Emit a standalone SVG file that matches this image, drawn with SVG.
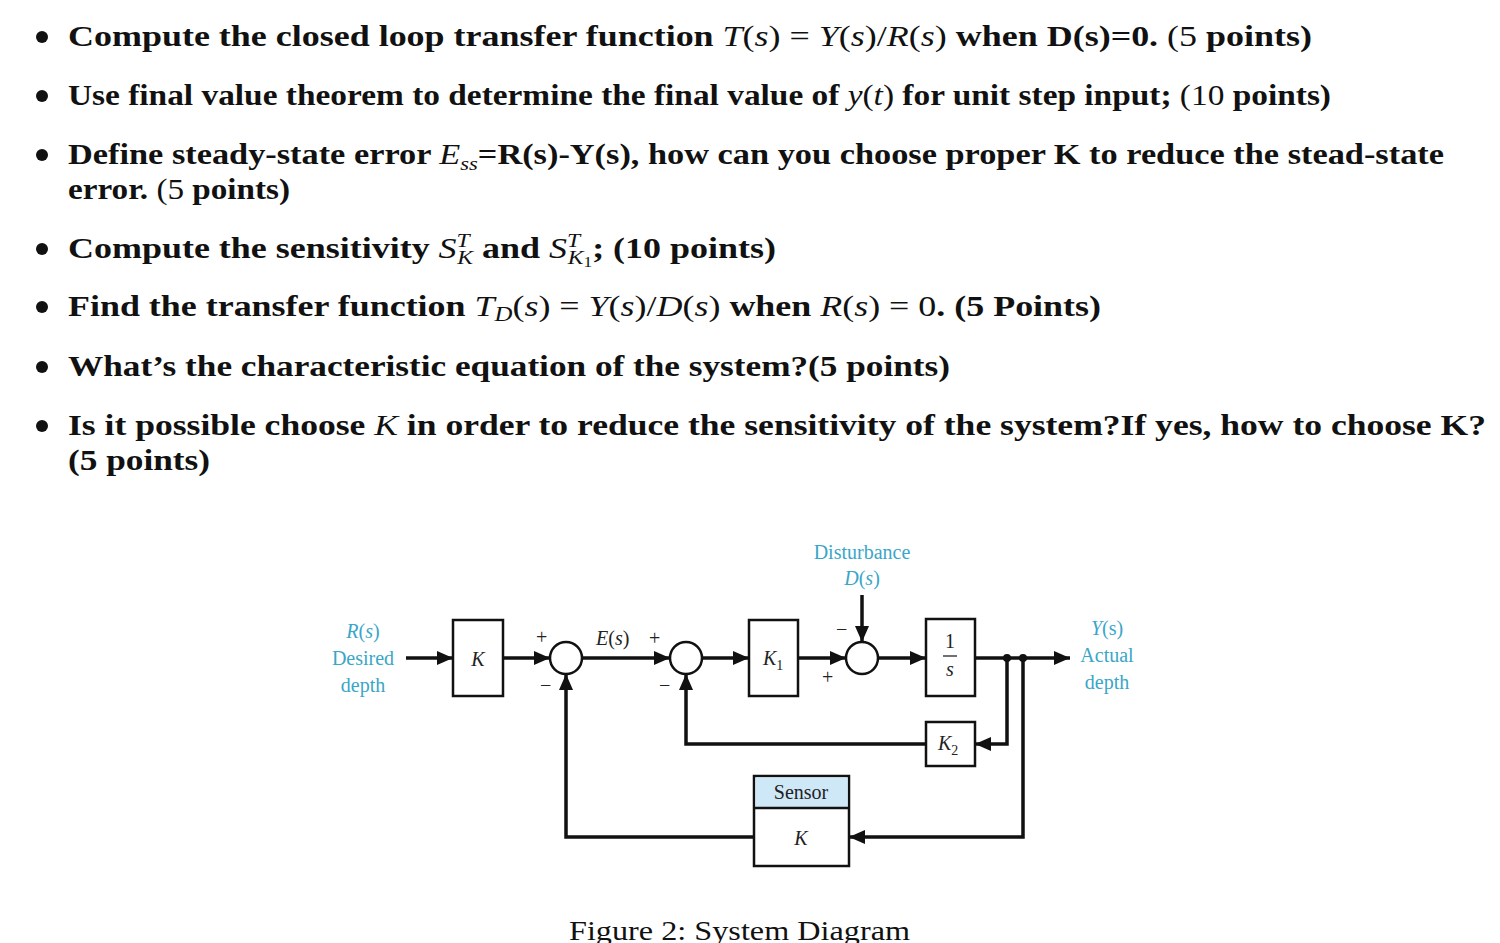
<svg xmlns="http://www.w3.org/2000/svg" width="1500" height="943" viewBox="0 0 1500 943">
<style>
.q{font-family:"Liberation Serif","DejaVu Serif",serif;font-size:29px;font-weight:bold;fill:#111}
.m{font-style:italic;font-weight:normal}
.n{font-weight:normal}
.d{font-family:"Liberation Serif",serif;font-size:20px;fill:#222}
.b{font-family:"Liberation Serif",serif;font-size:20px;fill:#3aa6c8;text-anchor:middle}
.box{fill:#fff;stroke:#111;stroke-width:2.5}
.ln{fill:none;stroke:#111;stroke-width:3.5}
</style>
<defs><marker id="a" markerWidth="8" markerHeight="8" refX="7" refY="4" orient="auto" markerUnits="userSpaceOnUse" viewBox="0 0 8 8"><path d="M0,0L8,4L0,8z" fill="#111"/></marker>
<marker id="ar" markerWidth="16" markerHeight="14" refX="16" refY="7" orient="auto" markerUnits="userSpaceOnUse"><path d="M0,0L16,7L0,14z" fill="#111"/></marker></defs>
<rect width="1500" height="943" fill="#fff"/>
<g fill="#111"><circle cx="42" cy="37" r="6"/><circle cx="42" cy="96" r="6"/><circle cx="42" cy="155" r="6"/><circle cx="42" cy="249" r="6"/><circle cx="42" cy="307" r="6"/><circle cx="42" cy="367" r="6"/><circle cx="42" cy="426" r="6"/></g>
<text class="q" x="68" y="46" textLength="1244" lengthAdjust="spacingAndGlyphs">Compute the closed loop transfer function <tspan class="m">T</tspan><tspan class="n">(</tspan><tspan class="m">s</tspan><tspan class="n">) = </tspan><tspan class="m">Y</tspan><tspan class="n">(</tspan><tspan class="m">s</tspan><tspan class="n">)/</tspan><tspan class="m">R</tspan><tspan class="n">(</tspan><tspan class="m">s</tspan><tspan class="n">)</tspan> when D(s)=0. <tspan class="n">(5</tspan> points)</text>
<text class="q" x="68" y="105" textLength="1263" lengthAdjust="spacingAndGlyphs">Use final value theorem to determine the final value of <tspan class="m">y</tspan><tspan class="n">(</tspan><tspan class="m">t</tspan><tspan class="n">)</tspan> for unit step input; <tspan class="n">(10</tspan> points)</text>
<text class="q" x="68" y="164" textLength="1376" lengthAdjust="spacingAndGlyphs">Define steady-state error <tspan class="m">E</tspan><tspan class="m" font-size="19" dy="6">ss</tspan><tspan dy="-6">=R(s)-Y(s), how can you choose proper K to reduce the stead-state</tspan></text>
<text class="q" x="68" y="199" textLength="222" lengthAdjust="spacingAndGlyphs">error. <tspan class="n">(5</tspan> points)</text>
<text class="q" x="68" y="258" textLength="708" lengthAdjust="spacingAndGlyphs">Compute the sensitivity <tspan class="m">S</tspan><tspan class="m" font-size="19" dy="-11">T</tspan><tspan class="m" font-size="19" dx="-10" dy="17">K</tspan><tspan dy="-6"> and </tspan><tspan class="m">S</tspan><tspan class="m" font-size="19" dy="-11">T</tspan><tspan class="m" font-size="19" dx="-10" dy="17">K</tspan><tspan class="n" font-size="14" dy="3">1</tspan><tspan dy="-9">; (10 points)</tspan></text>
<text class="q" x="68" y="316" textLength="1033" lengthAdjust="spacingAndGlyphs">Find the transfer function <tspan class="m">T</tspan><tspan class="m" font-size="20" dy="5">D</tspan><tspan class="n" dy="-5">(</tspan><tspan class="m">s</tspan><tspan class="n">) = </tspan><tspan class="m">Y</tspan><tspan class="n">(</tspan><tspan class="m">s</tspan><tspan class="n">)/</tspan><tspan class="m">D</tspan><tspan class="n">(</tspan><tspan class="m">s</tspan><tspan class="n">)</tspan> when <tspan class="m">R</tspan><tspan class="n">(</tspan><tspan class="m">s</tspan><tspan class="n">) = 0</tspan>. (5 Points)</text>
<text class="q" x="68" y="376" textLength="882" lengthAdjust="spacingAndGlyphs">What’s the characteristic equation of the system?(5 points)</text>
<text class="q" x="68" y="435" textLength="1418" lengthAdjust="spacingAndGlyphs">Is it possible choose <tspan class="m">K</tspan> in order to reduce the sensitivity of the system?If yes, how to choose K?</text>
<text class="q" x="68" y="470" textLength="142" lengthAdjust="spacingAndGlyphs">(5 points)</text>
<text x="569" y="940" font-family="Liberation Serif,serif" font-size="28" fill="#111" textLength="341" lengthAdjust="spacingAndGlyphs">Figure 2: System Diagram</text>

<g id="connectors">
<path class="ln" d="M406,658H453" marker-end="url(#ar)"/>
<path class="ln" d="M503,658H550" marker-end="url(#ar)"/>
<path class="ln" d="M582,658H670" marker-end="url(#ar)"/>
<path class="ln" d="M702,658H749" marker-end="url(#ar)"/>
<path class="ln" d="M798,658H846" marker-end="url(#ar)"/>
<path class="ln" d="M862,595V642" marker-end="url(#ar)"/>
<path class="ln" d="M878,658H926" marker-end="url(#ar)"/>
<path class="ln" d="M975,658H1070" marker-end="url(#ar)"/>
<path class="ln" d="M1007,658V744H975" marker-end="url(#ar)"/>
<path class="ln" d="M926,744H686V674" marker-end="url(#ar)"/>
<path class="ln" d="M1023,658V837H849" marker-end="url(#ar)"/>
<path class="ln" d="M754,837H566V674" marker-end="url(#ar)"/>
<circle cx="1007" cy="658" r="4" fill="#111"/><circle cx="1023" cy="658" r="4" fill="#111"/>
</g>
<g id="R"><text class="b" x="363" y="638"><tspan font-style="italic">R</tspan>(<tspan font-style="italic">s</tspan>)</text><text class="b" x="363" y="665">Desired</text><text class="b" x="363" y="692">depth</text></g>
<g id="Kbox"><rect class="box" x="453" y="620" width="50" height="76"/><text class="d" x="478" y="666" text-anchor="middle" font-style="italic">K</text></g>
<g id="sum1"><circle class="box" cx="566" cy="658" r="16" stroke-width="1.5"/><text class="d" x="536" y="644">+</text><text class="d" x="540" y="692">−</text></g>
<g id="E"><text class="d" x="596" y="645"><tspan font-style="italic">E</tspan>(<tspan font-style="italic">s</tspan>)</text></g>
<g id="sum2"><circle class="box" cx="686" cy="658" r="16" stroke-width="1.5"/><text class="d" x="649" y="645">+</text><text class="d" x="659" y="692">−</text></g>
<g id="K1"><rect class="box" x="749" y="620" width="49" height="76"/><text class="d" x="763" y="665" font-style="italic">K<tspan font-style="normal" font-size="14" dy="5">1</tspan></text></g>
<g id="D"><text class="b" x="862" y="559">Disturbance</text><text class="b" x="862" y="585"><tspan font-style="italic">D</tspan>(<tspan font-style="italic">s</tspan>)</text></g>
<g id="sum3"><circle class="box" cx="862" cy="658" r="16" stroke-width="1.5"/><text class="d" x="836" y="636">−</text><text class="d" x="822" y="684">+</text></g>
<g id="integ"><rect class="box" x="926" y="619" width="49" height="77"/><text class="d" x="950" y="648" text-anchor="middle" font-size="17">1</text><line x1="943" y1="656" x2="957" y2="656" stroke="#111" stroke-width="1.2"/><text class="d" x="950" y="676" text-anchor="middle" font-size="17" font-style="italic">s</text></g>
<g id="Y"><text class="b" x="1107" y="635"><tspan font-style="italic">Y</tspan>(s)</text><text class="b" x="1107" y="662">Actual</text><text class="b" x="1107" y="689">depth</text></g>
<g id="K2"><rect class="box" x="926" y="722" width="49" height="44"/><text class="d" x="938" y="750" font-style="italic">K<tspan font-style="normal" font-size="14" dy="5">2</tspan></text></g>
<g id="sensor"><rect class="box" x="754" y="776" width="95" height="90"/><rect x="755.5" y="777.5" width="92" height="30" fill="#cfe8f7"/><line x1="754" y1="808" x2="849" y2="808" stroke="#111" stroke-width="2.5"/><text class="d" x="801" y="799" text-anchor="middle">Sensor</text><text class="d" x="801" y="845" text-anchor="middle" font-style="italic">K</text></g>
</svg>
